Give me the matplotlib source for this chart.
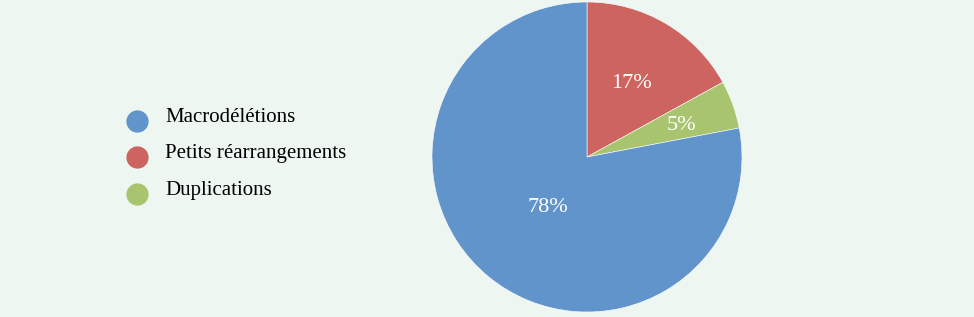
import numpy as np
import matplotlib.pyplot as plt

labels = ["Macrodélétions", "Petits réarrangements", "Duplications"]
values = [78, 17, 5]
colors = ["#6194CB", "#CD6460", "#A9C46F"]
pct_dist = [0.40, 0.57, 0.65]

bg = "#EEF6F1"
plt.rcParams['font.family'] = ['Liberation Serif', 'DejaVu Serif']

fig = plt.figure(figsize=(9.74, 3.17), dpi=100)
fig.patch.set_facecolor(bg)

# overlay in pixel units for the hand-made legend
lax = fig.add_axes([0, 0, 1, 1])
lax.set_xlim(0, 974)
lax.set_ylim(317, 0)
lax.axis("off")

ax = fig.add_axes([432 / 974, 5 / 317, 310 / 974, 310 / 317])
ax.set_facecolor(bg)

# order drawn clockwise from top: red, green, blue
order = [1, 2, 0]
wedges, _ = ax.pie([values[i] for i in order], colors=[colors[i] for i in order],
                   startangle=90, counterclock=False,
                   wedgeprops=dict(edgecolor="white", linewidth=0.4))
for w, i in zip(wedges, order):
    ang = np.deg2rad((w.theta1 + w.theta2) / 2)
    r = pct_dist[i]
    ax.text(r * np.cos(ang), r * np.sin(ang), f"{values[i]}%",
            ha="center", va="center_baseline", color="white", fontsize=16)
ax.set_xlim(-1, 1)
ax.set_ylim(-1, 1)
ax.set_aspect("equal")

row_y = [121, 157, 194]
for y, c, lab in zip(row_y, colors, labels):
    lax.plot([137], [y], marker="o", markersize=15, color=c, linestyle="none")
    lax.text(165, y + 1, lab, fontsize=15, va="baseline", ha="left", color="black")

fig.savefig("out.png", dpi=100, facecolor=bg)
